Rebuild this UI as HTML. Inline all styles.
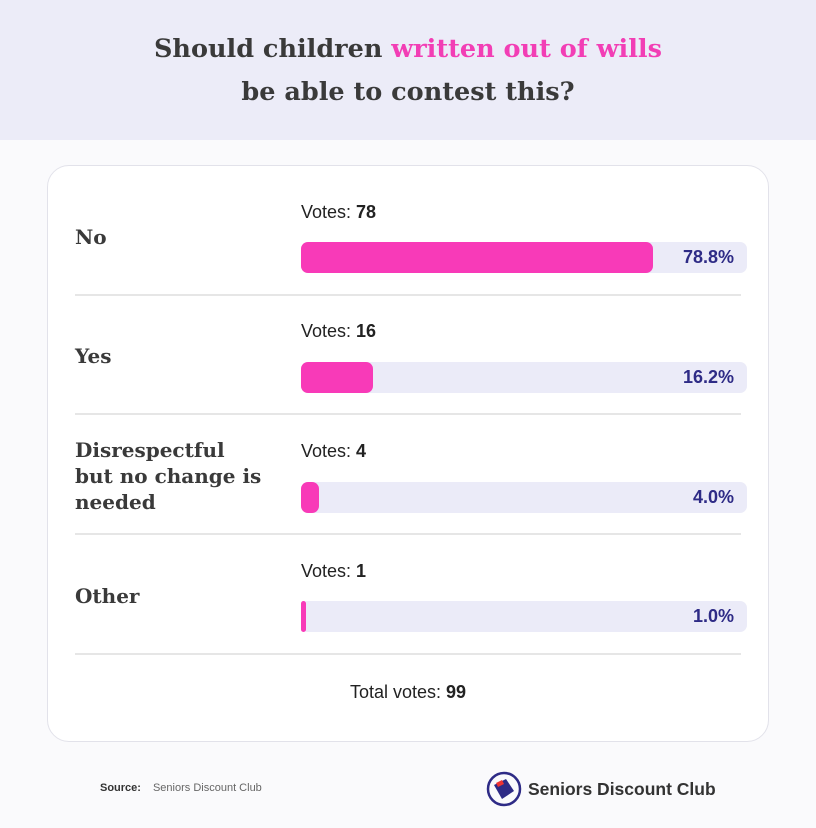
<!DOCTYPE html>
<html><head><style>
body{margin:0;width:816px;height:828px;background:#fafafc;font-family:"Liberation Sans",sans-serif;position:relative;overflow:hidden}
.hdr{position:absolute;left:0;top:0;width:816px;height:140px;background:#ececf8}
.title{position:absolute;top:28px;width:816px;text-align:center;font-family:"DejaVu Serif",serif;font-weight:bold;font-size:25.5px;line-height:43px;color:#3a3a3a}
.pink{color:#f23eb5}
.card{position:absolute;left:47px;top:165px;width:720px;height:575px;background:#fff;border:1px solid #e2e2ea;border-radius:22px}
.lbl{position:absolute;left:75px;font-family:"DejaVu Serif",serif;font-weight:bold;font-size:20px;line-height:26px;color:#3a3a3a}
.votes{position:absolute;left:301px;font-size:18px;color:#222}
.bar{position:absolute;left:301px;width:446px;height:31px;background:#ebebf8;border-radius:7px}
.fill{position:absolute;left:0;top:0;height:31px;background:#f83ab8;border-radius:7px}
.pct{position:absolute;right:13px;top:5px;font-size:18px;font-weight:bold;color:#2e2b86}
.sep{position:absolute;left:75px;width:666px;height:2px;background:#e6e6e6}
</style></head><body>
<div class="hdr"></div>
<div class="title">Should children <span class="pink">written out of wills</span><br>be able to contest this?</div>
<div class="card"></div>

<div class="lbl" style="top:224px">No</div>
<div class="votes" style="top:202px">Votes: <b>78</b></div>
<div class="bar" style="top:242px"><div class="fill" style="width:352px"></div><div class="pct">78.8%</div></div>
<div class="sep" style="top:294px"></div>

<div class="lbl" style="top:343px">Yes</div>
<div class="votes" style="top:321px">Votes: <b>16</b></div>
<div class="bar" style="top:362px"><div class="fill" style="width:72px"></div><div class="pct">16.2%</div></div>
<div class="sep" style="top:413px"></div>

<div class="lbl" style="top:437px">Disrespectful<br>but no change is<br>needed</div>
<div class="votes" style="top:441px">Votes: <b>4</b></div>
<div class="bar" style="top:482px"><div class="fill" style="width:18px"></div><div class="pct">4.0%</div></div>
<div class="sep" style="top:533px"></div>

<div class="lbl" style="top:583px">Other</div>
<div class="votes" style="top:561px">Votes: <b>1</b></div>
<div class="bar" style="top:601px"><div class="fill" style="width:5px;border-radius:3px"></div><div class="pct">1.0%</div></div>
<div class="sep" style="top:653px"></div>

<div style="position:absolute;top:682px;width:816px;text-align:center;font-size:18px;color:#222">Total votes: <b>99</b></div>

<div style="position:absolute;left:100px;top:782px;font-size:11px;color:#333"><b>Source:</b><span style="margin-left:12px;color:#666">Seniors Discount Club</span></div>
<svg style="position:absolute;left:486px;top:771px" width="36" height="36" viewBox="0 0 36 36"><circle cx="18" cy="18" r="16" fill="none" stroke="#2e2b86" stroke-width="2.5"/><path d="M8 14 L20 8 L28 20 L16 28 Z" fill="#2e2b86"/><path d="M10 12 L16 9 L18 13 L12 16Z" fill="#e33"/></svg>
<div style="position:absolute;left:528px;top:779px;font-size:17.5px;font-weight:bold;color:#333">Seniors Discount Club</div>
</body></html>
